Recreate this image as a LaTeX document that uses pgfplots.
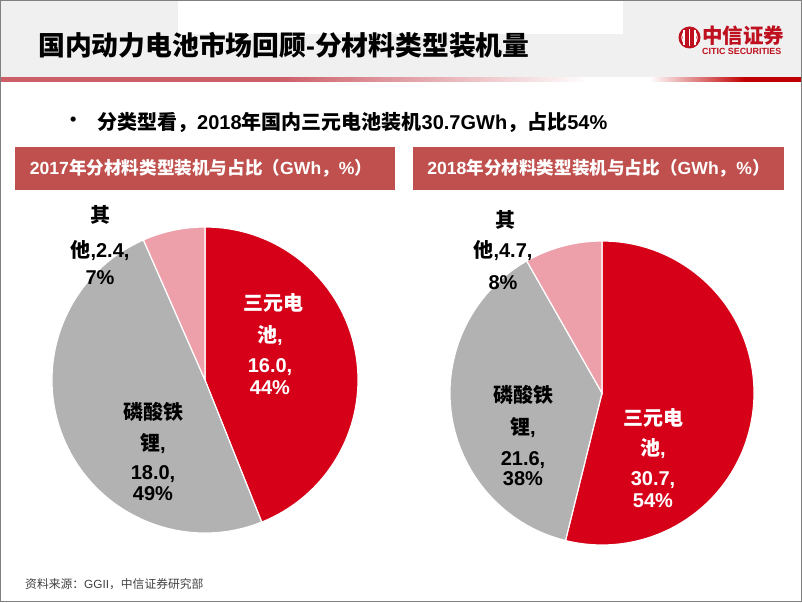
\documentclass[border=0pt]{standalone}
\usepackage{pgfplots}
\pgfplotsset{compat=1.18}
\usepackage{pgfplotstable}
\usepackage{fontspec}
\setmainfont{Liberation Sans}
\newfontfamily\cjk{Noto Sans CJK SC}
\newcommand\C[1]{{\cjk #1}}
\definecolor{pred}{RGB}{214,0,24}
\definecolor{pgray}{RGB}{178,178,178}
\definecolor{ppink}{RGB}{238,160,170}
\definecolor{hbox}{RGB}{192,80,77}
\definecolor{hgray}{RGB}{240,240,240}
\definecolor{lred}{RGB}{205,95,105}
\definecolor{dred}{RGB}{192,0,0}
\definecolor{logored}{RGB}{190,16,30}
\definecolor{srcgray}{RGB}{64,64,64}

\pgfplotsset{piebox/.style={scale only axis, xmin=-1,xmax=1,ymin=-1,ymax=1, hide axis, clip=false, anchor=center}}

% 2017 installed capacity by material (GWh)
\pgfplotstableread{
type value
NCM 16.0
LFP 18.0
Other 2.4
}\tabA
% 2018 installed capacity by material (GWh)
\pgfplotstableread{
type value
NCM 30.7
LFP 21.6
Other 4.7
}\tabB

\pgfplotstablegetelem{0}{value}\of\tabA \pgfmathsetmacro\Aone{\pgfplotsretval}
\pgfplotstablegetelem{1}{value}\of\tabA \pgfmathsetmacro\Atwo{\pgfplotsretval}
\pgfplotstablegetelem{2}{value}\of\tabA \pgfmathsetmacro\Athree{\pgfplotsretval}
\pgfmathsetmacro\Atot{\Aone+\Atwo+\Athree}
\pgfmathsetmacro\Aa{90-360*\Aone/\Atot}
\pgfmathsetmacro\Ab{\Aa-360*\Atwo/\Atot}

\pgfplotstablegetelem{0}{value}\of\tabB \pgfmathsetmacro\Bone{\pgfplotsretval}
\pgfplotstablegetelem{1}{value}\of\tabB \pgfmathsetmacro\Btwo{\pgfplotsretval}
\pgfplotstablegetelem{2}{value}\of\tabB \pgfmathsetmacro\Bthree{\pgfplotsretval}
\pgfmathsetmacro\Btot{\Bone+\Btwo+\Bthree}
\pgfmathsetmacro\Ba{90-360*\Bone/\Btot}
\pgfmathsetmacro\Bb{\Ba-360*\Btwo/\Btot}

\begin{document}
\begin{tikzpicture}[x=1pt,y=1pt,
  lab/.style={font=\bfseries\fontsize{20}{24}\selectfont, inner sep=0pt, anchor=base}]
\path[use as bounding box] (0,0) rectangle (802,602);
% header band
\fill[hgray] (0,525) rectangle (802,602);
\fill[white] (178,568) rectangle (623,602);
% red gradient line
\fill[lred] (0,520.3) rectangle (280,524.7);
\shade[left color=lred, right color=white] (280,520.3) rectangle (590,524.7);
\shade[left color=white, right color=dred] (650,520.3) rectangle (745,524.7);
\fill[dred] (745,520.3) rectangle (802,524.7);
% title
\node[anchor=west, inner sep=0pt, font=\bfseries\fontsize{26.8}{30}\selectfont] at (38,557)
  {\C{国内动力电池市场回顾}-\C{分材料类型装机量}};
% logo
\fill[logored] (689.5,564.5) circle[radius=11];
\draw[white, line width=1.3pt] (684,557) -- (684,572);
\draw[white, line width=1.3pt] (689.5,556) -- (689.5,573);
\draw[white, line width=1.3pt] (695,557) -- (695,572);
\draw[white, line width=1pt] (683,569) arc[start angle=150, end angle=210, radius=9];
\draw[white, line width=1pt] (696,569) arc[start angle=30, end angle=-30, radius=9];
\node[anchor=west, inner sep=0pt, text=logored, font=\bfseries\fontsize{20.5}{22}\selectfont] at (702,566) {\C{中信证券}};
\node[anchor=west, inner sep=0pt, text=logored, font=\bfseries\fontsize{8.9}{10}\selectfont] at (702,551) {CITIC SECURITIES};
% bullet line
\node[anchor=west, inner sep=0pt, font=\bfseries\fontsize{18}{24}\selectfont] at (70,481) {\textbullet};
\node[anchor=west, inner sep=0pt, font=\bfseries\fontsize{20}{24}\selectfont] at (97,480)
  {\C{分类型看，}2018\C{年国内三元电池装机}30.7GWh\C{，占比}54\%};
% section headers
\fill[hbox] (15,412) rectangle (395,455);
\fill[hbox] (413,412) rectangle (784,455);
\node[text=white, inner sep=0pt, font=\bfseries\fontsize{17.6}{20}\selectfont] at (201,434)
  {2017\C{年分材料类型装机与占比（}GWh\C{，}\%\C{）}};
\node[text=white, inner sep=0pt, font=\bfseries\fontsize{17.6}{20}\selectfont] at (598.5,434)
  {2018\C{年分材料类型装机与占比（}GWh\C{，}\%\C{）}};

% 2017 pie
\begin{axis}[piebox, at={(205pt,222pt)}, width=306pt, height=306pt]
\addplot[fill=pred, draw=white, line width=1.2pt] coordinates {(0,0) (0,1)} arc[start angle=90, end angle=\Aa, radius=153pt] -- cycle;
\addplot[fill=pgray, draw=white, line width=1.2pt] coordinates {(0,0) ({cos(\Aa)},{sin(\Aa)})} arc[start angle=\Aa, end angle=\Ab, radius=153pt] -- cycle;
\addplot[fill=ppink, draw=white, line width=1.2pt] coordinates {(0,0) ({cos(\Ab)},{sin(\Ab)})} arc[start angle=\Ab, end angle=-270, radius=153pt] -- cycle;
\end{axis}

% 2018 pie
\begin{axis}[piebox, at={(602pt,209pt)}, width=304pt, height=304pt]
\addplot[fill=pred, draw=white, line width=1.2pt] coordinates {(0,0) (0,1)} arc[start angle=90, end angle=\Ba, radius=152pt] -- cycle;
\addplot[fill=pgray, draw=white, line width=1.2pt] coordinates {(0,0) ({cos(\Ba)},{sin(\Ba)})} arc[start angle=\Ba, end angle=\Bb, radius=152pt] -- cycle;
\addplot[fill=ppink, draw=white, line width=1.2pt] coordinates {(0,0) ({cos(\Bb)},{sin(\Bb)})} arc[start angle=\Bb, end angle=-270, radius=152pt] -- cycle;
\end{axis}

% 2017 labels
\node[lab] at (100,379.7) {\C{其}};
\node[lab] at (100,344.7) {\C{他},2.4,};
\node[lab] at (100,317.7) {7\%};
\node[lab, text=white] at (273,291.7) {\C{三元电}};
\node[lab, text=white] at (270,259.7) {\C{池},};
\node[lab, text=white] at (270,229.7) {16.0,};
\node[lab, text=white] at (270,207.7) {44\%};
\node[lab] at (153,182.7) {\C{磷酸铁}};
\node[lab] at (153,151.7) {\C{锂},};
\node[lab] at (153,122.7) {18.0,};
\node[lab] at (153,101.7) {49\%};
% 2018 labels
\node[lab] at (505,374.7) {\C{其}};
\node[lab] at (503,344.7) {\C{他},4.7,};
\node[lab] at (503,312.7) {8\%};
\node[lab] at (523,199.7) {\C{磷酸铁}};
\node[lab] at (523,167.7) {\C{锂},};
\node[lab] at (523,136.7) {21.6,};
\node[lab] at (523,116.7) {38\%};
\node[lab, text=white] at (653,176.7) {\C{三元电}};
\node[lab, text=white] at (653,146.7) {\C{池},};
\node[lab, text=white] at (653,116.7) {30.7,};
\node[lab, text=white] at (653,94.7) {54\%};

% source
\node[anchor=west, inner sep=0pt, text=srcgray, font=\fontsize{11.8}{14}\selectfont] at (25,18)
  {\C{资料来源：}GGII\C{，中信证券研究部}};
% frame
\draw[gray, line width=1pt] (0.5,0.5) rectangle (801.5,601.5);
\end{tikzpicture}
\end{document}
